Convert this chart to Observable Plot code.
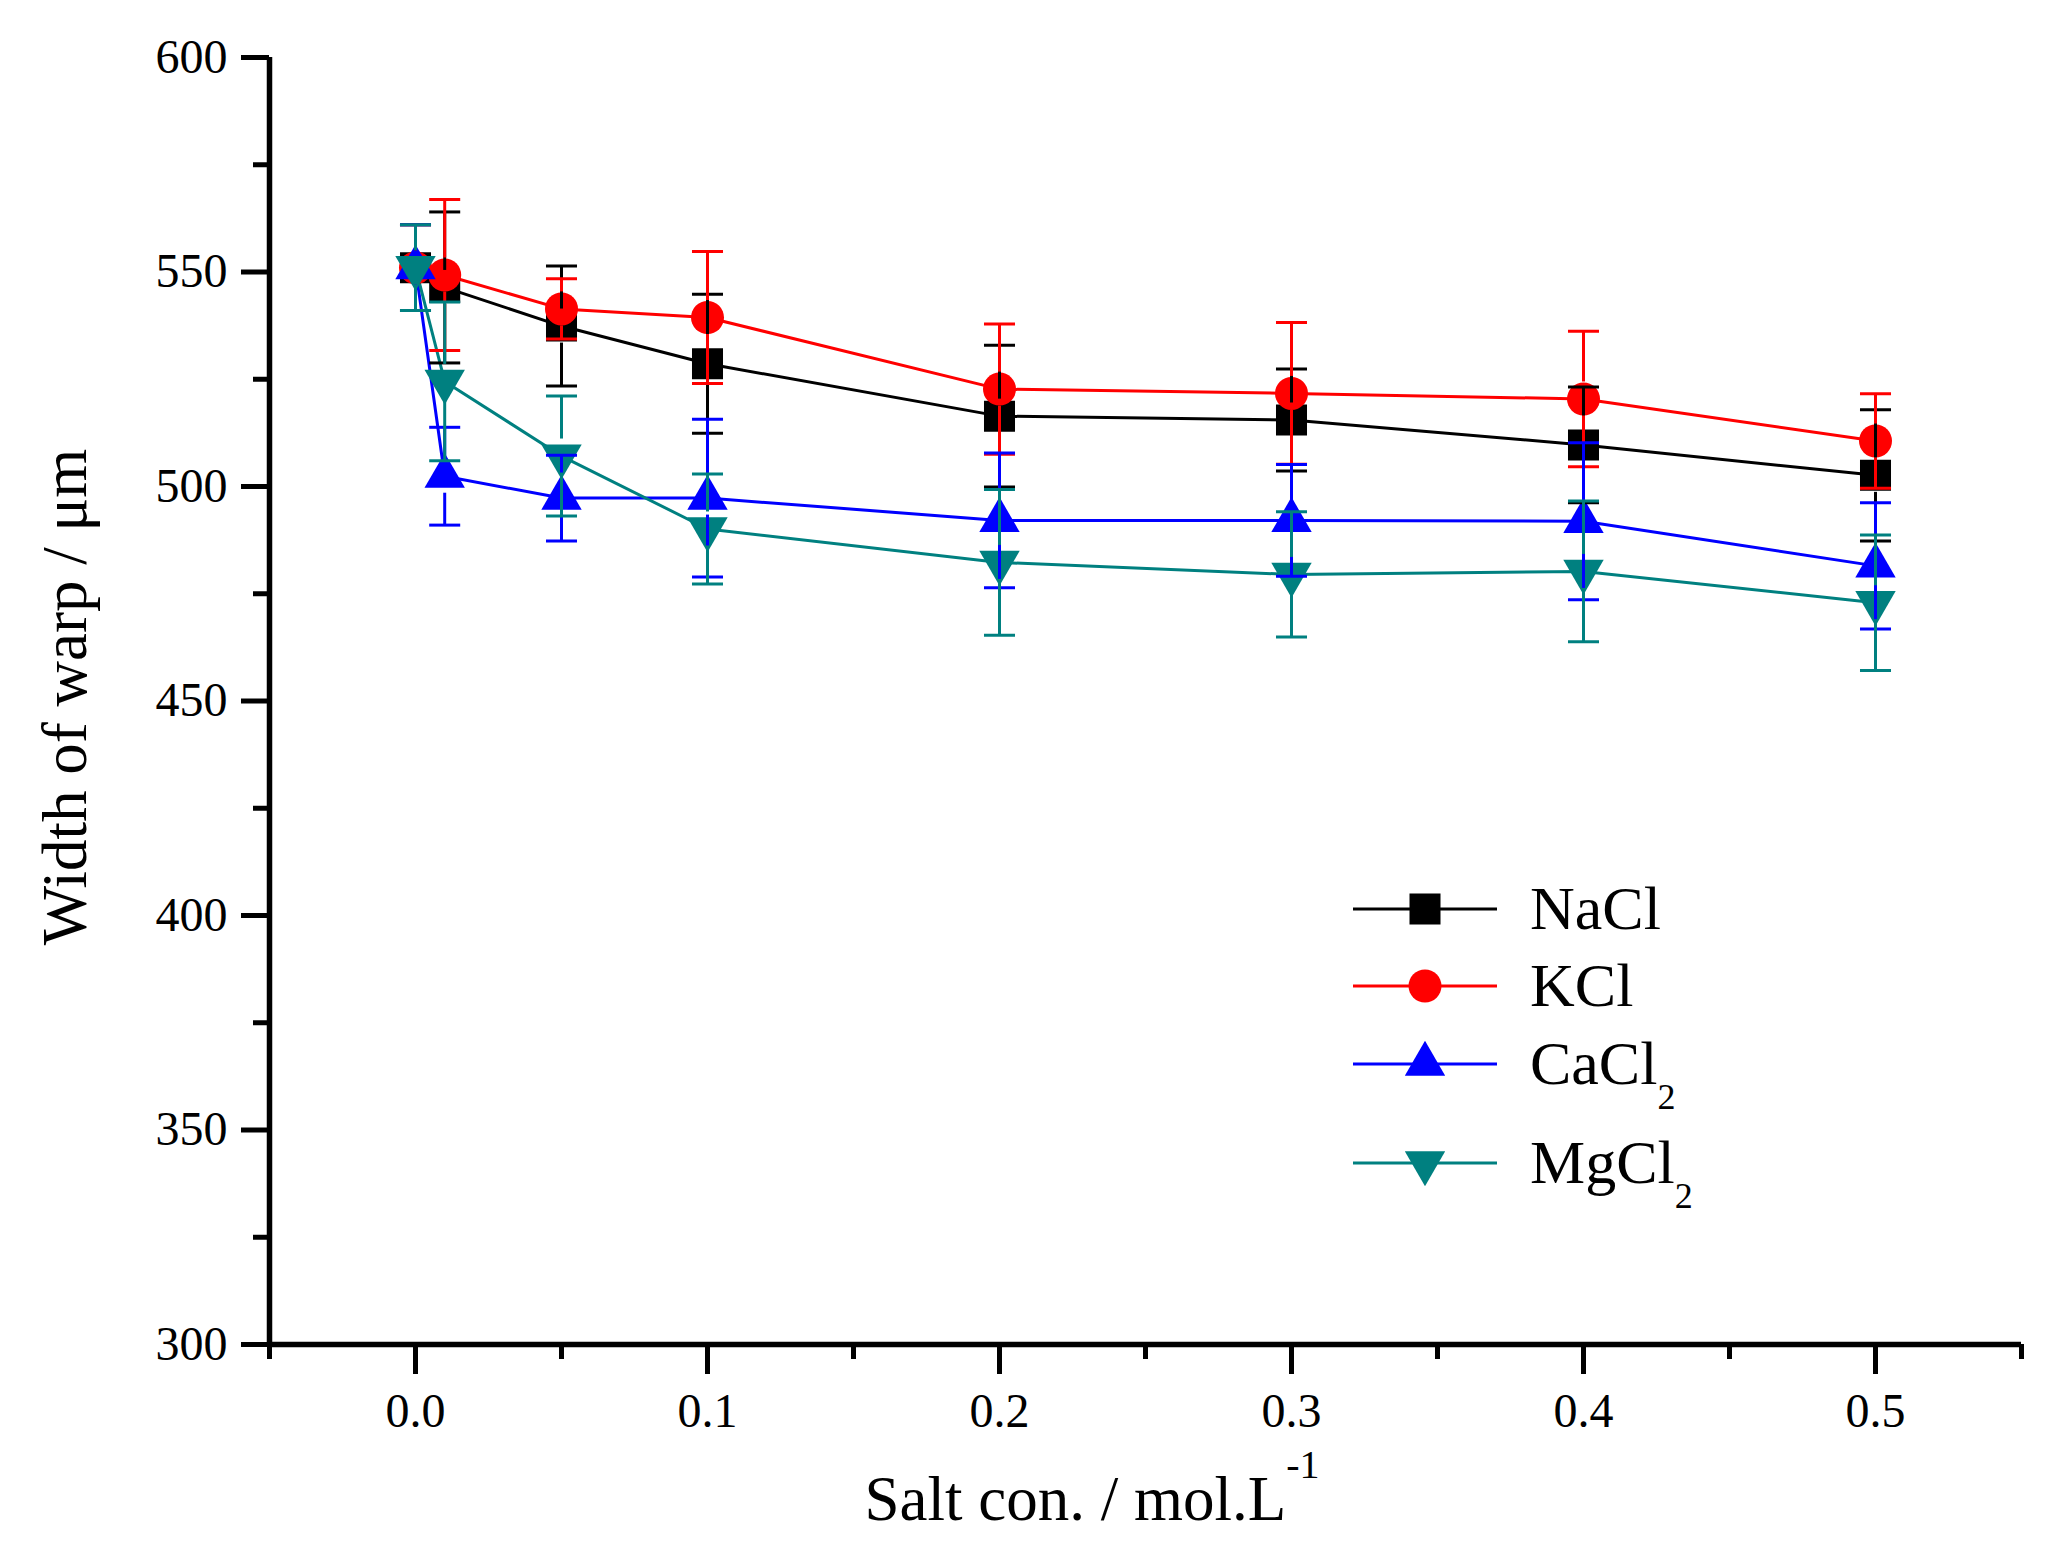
<!DOCTYPE html>
<html>
<head>
<meta charset="utf-8">
<script src="https://cdn.jsdelivr.net/npm/d3@7"></script>
<script src="https://cdn.jsdelivr.net/npm/@observablehq/plot@0.6"></script>
<style>
  body { margin: 0; background: #fff; }
  #chart svg { display: block; }
</style>
</head>
<body>
<div id="chart"></div>
<script>
// salt concentration (mol/L)
const conc = [0, 0.01, 0.05, 0.1, 0.2, 0.3, 0.4, 0.5];
const salts = ["NaCl", "KCl", "CaCl2", "MgCl2"];

// width of warp (µm) and error bars
const nacl = [551, 546.4, 537.4, 528.6, 516.4, 515.5, 509.7, 502.6];
const naclErr = [10, 17.6, 14, 16.2, 16.5, 11.9, 13.5, 15.3];
const kcl = [551, 549.3, 541.4, 539.4, 522.7, 521.7, 520.4, 510.6];
const kclErr = [10, 17.6, 7, 15.4, 15.2, 16.5, 15.8, 11];
const cacl2 = [551, 502.4, 497.3, 497.3, 492.1, 492.1, 491.9, 481.5];
const cacl2Err = [10, 11.4, 10, 18.4, 15.7, 13, 18.3, 14.7];
const mgcl2 = [551, 524.5, 507.1, 490.1, 482.3, 479.5, 480.2, 472.9];
const mgcl2Err = [10, 18.5, 14, 12.8, 17, 14.6, 16.4, 15.8];

const xMajor = [0, 0.1, 0.2, 0.3, 0.4, 0.5];
const xMinor = [-0.05, 0.05, 0.15, 0.25, 0.35, 0.45, 0.55];
const yMajor = [300, 350, 400, 450, 500, 550, 600];
const yMinor = [325, 375, 425, 475, 525, 575];

const values = [nacl, kcl, cacl2, mgcl2];
const errors = [naclErr, kclErr, cacl2Err, mgcl2Err];
const colors = ["#000000", "#ff0000", "#0000ff", "#008080"];
const symbols = ["square", "circle", "triangle", "triangle"];
const rotations = [0, 0, 0, 180];
const radii = [17.5, 16.5, 15, 15];

const rows = salts.flatMap((s, i) =>
  conc.map((c, j) => ({salt: s, x: c, y: values[i][j], err: errors[i][j]}))
);

// horizontal cap for error bars
const capSymbol = {
  draw(context, size) {
    const w = Math.sqrt(size);
    context.moveTo(-w / 2, 0);
    context.lineTo(w / 2, 0);
  }
};

const gap = 17;
const marks = [];

// connecting lines
marks.push(Plot.line(rows, {x: "x", y: "y", stroke: "salt", strokeWidth: 3}));

// markers
salts.forEach((s, i) => {
  marks.push(Plot.dot(rows.filter(d => d.salt === s), {
    x: "x", y: "y",
    symbol: symbols[i], r: radii[i], rotate: rotations[i],
    fill: colors[i], stroke: "none"
  }));
});

// error bars (drawn over the markers, with a gap at the own marker)
salts.forEach((s, i) => {
  const d = rows.filter(r => r.salt === s);
  const st = {stroke: colors[i], strokeWidth: 3};
  marks.push(Plot.ruleX(d, {x: "x", y1: r => r.y + r.err, y2: "y", insetBottom: gap, ...st}));
  marks.push(Plot.ruleX(d, {x: "x", y1: "y", y2: r => r.y - r.err, insetTop: gap, ...st}));
  marks.push(Plot.dot(d, {x: "x", y: r => r.y + r.err, symbol: capSymbol, r: 17.5, fill: "none", ...st}));
  marks.push(Plot.dot(d, {x: "x", y: r => r.y - r.err, symbol: capSymbol, r: 17.5, fill: "none", ...st}));
});

// axes
marks.push(
  Plot.ruleX([-0.05], {strokeWidth: 5.5}),
  Plot.ruleY([300], {strokeWidth: 5.5}),
  Plot.axisY({ticks: yMajor, tickSize: 28, tickPadding: 14, strokeWidth: 5, fontSize: 48, tickFormat: d => d, label: null}),
  Plot.axisY({ticks: yMinor, tickSize: 16, strokeWidth: 5, tickFormat: () => "", label: null}),
  Plot.axisX({ticks: xMajor, tickSize: 30, tickPadding: 18, strokeWidth: 5, fontSize: 48, tickFormat: d3.format(".1f"), label: null}),
  Plot.axisX({ticks: xMinor, tickSize: 15, strokeWidth: 5, tickFormat: () => "", label: null})
);

const chart = Plot.plot({
  width: 2072,
  height: 1562,
  marginTop: 57,
  marginRight: 51,
  marginBottom: 218,
  marginLeft: 269,
  style: {fontFamily: "'Liberation Serif', 'Times New Roman', serif", background: "#fff", color: "#000", overflow: "visible"},
  x: {domain: [-0.05, 0.55]},
  y: {domain: [300, 600]},
  color: {domain: salts, range: colors},
  marks
});

document.getElementById("chart").append(chart);

const svg = d3.select(chart);
const font = "'Liberation Serif', 'Times New Roman', serif";

// axis titles
svg.append("text")
  .attr("transform", "translate(86,697) rotate(-90)")
  .attr("text-anchor", "middle")
  .attr("font-family", font)
  .attr("font-size", 63)
  .attr("fill", "#000")
  .text("Width of warp / μm");

const xt = svg.append("text")
  .attr("x", 1092).attr("y", 1520)
  .attr("text-anchor", "middle")
  .attr("font-family", font)
  .attr("font-size", 63)
  .attr("fill", "#000");
xt.append("tspan").text("Salt con. / mol.L");
xt.append("tspan").attr("font-size", 40).attr("dy", -42).text("-1");

// legend
const legendY = [909, 986, 1064, 1163];
const d3Symbols = [d3.symbolSquare, d3.symbolCircle, d3.symbolTriangle, d3.symbolTriangle];
salts.forEach((s, i) => {
  const g = svg.append("g");
  const y = legendY[i];
  g.append("line")
    .attr("x1", 1353).attr("x2", 1497).attr("y1", y).attr("y2", y)
    .attr("stroke", colors[i]).attr("stroke-width", 3);
  g.append("path")
    .attr("d", d3.symbol(d3Symbols[i], Math.PI * radii[i] * radii[i])())
    .attr("transform", `translate(1425,${y}) rotate(${rotations[i]})`)
    .attr("fill", colors[i]);
  const t = g.append("text")
    .attr("x", 1530).attr("y", y + 20)
    .attr("text-anchor", "start")
    .attr("font-family", font)
    .attr("font-size", 62)
    .attr("fill", "#000");
  const m = s.match(/^(.*?)(\d*)$/);
  t.append("tspan").text(m[1]);
  if (m[2]) t.append("tspan").attr("font-size", 36).attr("dy", 25).text(m[2]);
});
</script>
</body>
</html>
